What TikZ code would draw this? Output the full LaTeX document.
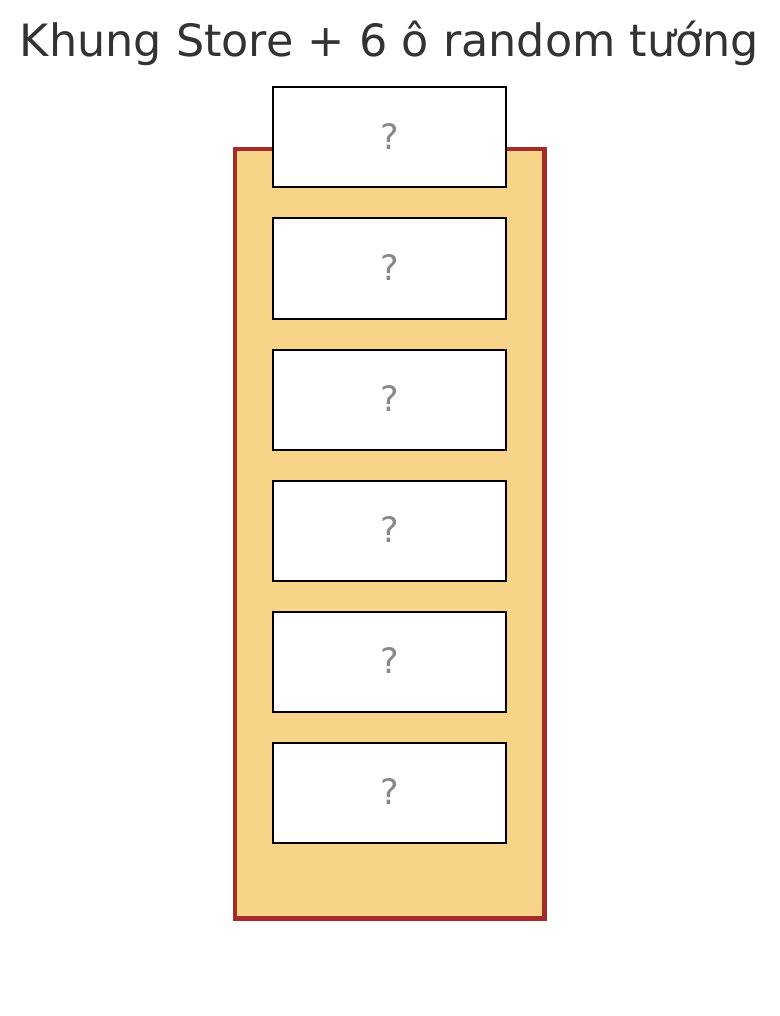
\documentclass[tikz,border=0pt]{standalone}
\usepackage{fontspec}
\setmainfont{DejaVu Sans}
\definecolor{titlegray}{HTML}{333333}
\definecolor{qgray}{HTML}{888888}
\definecolor{storefill}{HTML}{F7D488}
\definecolor{storeline}{HTML}{A52A2A}
\begin{document}
\begin{tikzpicture}[x=1pt,y=-1pt,
  storeframe/.style={draw=storeline,line width=4.5pt,fill=storefill},
  slotbox/.style={draw=black,line width=2pt,fill=white,minimum width=233pt,minimum height=100pt,inner sep=0pt,outer sep=0pt,
     font=\fontsize{35}{40}\selectfont,text=qgray},
  titletext/.style={font=\fontsize{44.5}{52}\selectfont,text=titlegray,anchor=base}]
\useasboundingbox (0,0) rectangle (779,1016);
\node[titletext] (title) at (389.5,56.5) {Khung Store + 6 ô random tướng};
\draw[storeframe] (235,149) rectangle (544.5,918.5);
\foreach \i in {0,...,5}{
  \node[slotbox] (slot\i) at (389.5,{137.5+131*\i}) {\raisebox{1pt}{?}};
}
\end{tikzpicture}
\end{document}
